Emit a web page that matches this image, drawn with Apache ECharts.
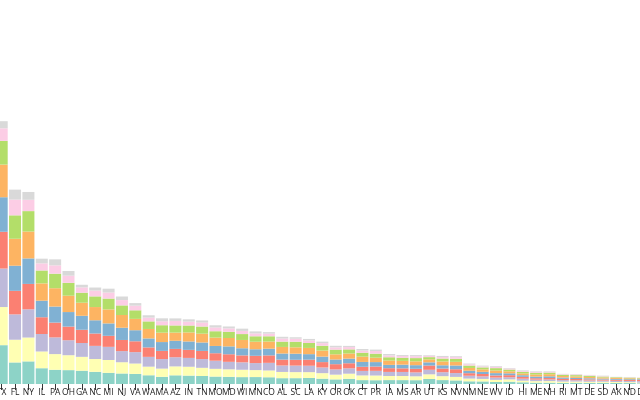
<!DOCTYPE html>
<html>
<head>
<meta charset="utf-8">
<script src="https://cdn.jsdelivr.net/npm/echarts@6/dist/echarts.min.js"></script>
<style>
  html, body { margin: 0; padding: 0; background: #fff; overflow: hidden; width: 640px; height: 400px; }
  /* the chart is wider than the window: CA sits off the left edge, DC/VT/WY off the right */
  #chart { position: absolute; left: -19.6px; top: -6.3px; width: 699.4px; height: 406.3px; }
</style>
</head>
<body>
<div id="chart"></div>
<script>
// states sorted by total population (thousands)
const states = ['CA','TX','FL','NY','IL','PA','OH','GA','NC','MI','NJ','VA','WA','MA','AZ','IN','TN','MO','MD','WI','MN','CO','AL','SC','LA','KY','OR','OK','CT','PR','IA','MS','AR','UT','KS','NV','NM','NE','WV','ID','HI','ME','NH','RI','MT','DE','SD','AK','ND','DC','VT','WY']

const ageGroups = ['<10','10-19','20-29','30-39','40-49','50-59','60-69','70-79','≥80']

const under10 = [5038,3983,2211,2320,1620,1459,1423,1364,1250,1144,1079,1034,896,738,892,863,818,764,738,706,712,691,598,600,620,548,474,533,399,389,402,400,392,514,402,369,276,264,207,237,176,138,136,111,126,112,121,107,99,74,64,78]
const age10 = [5170,3911,2331,2446,1716,1608,1530,1422,1310,1320,1154,1065,883,841,913,906,843,793,767,755,714,697,639,619,596,565,485,525,481,480,419,421,397,479,402,360,283,258,219,240,164,156,163,137,126,118,113,100,91,63,79,76]
const age20 = [5809,3946,2598,2894,1790,1712,1536,1419,1350,1347,1140,1171,1004,978,940,906,895,832,768,761,720,781,662,668,657,582,538,550,462,480,419,414,400,465,407,393,290,261,232,218,205,155,165,154,136,129,116,121,125,156,82,83]
const age30 = [5354,3771,2416,2605,1722,1520,1399,1357,1269,1131,1143,1112,971,838,857,827,837,767,778,714,744,766,603,596,622,552,536,520,425,442,382,371,373,436,376,390,259,244,220,210,187,144,148,126,125,113,105,102,95,122,70,77]
const age40 = [5179,3546,2576,2617,1697,1645,1491,1434,1358,1274,1255,1135,921,907,833,861,866,746,809,732,674,692,626,625,567,564,481,477,496,456,341,377,370,329,336,387,250,222,238,191,171,171,178,137,117,116,96,92,82,79,73,65]
const age50 = [5042,3345,2763,2756,1773,1881,1678,1340,1356,1434,1308,1162,970,964,835,926,903,855,860,849,771,729,674,657,638,620,530,522,546,453,443,390,395,302,389,374,287,255,269,207,183,208,215,153,150,135,117,105,94,72,94,77]
const age60 = [3737,2431,2405,2095,1326,1492,1321,1027,1095,1114,983,880,777,762,738,712,735,657,637,604,560,539,548,574,508,493,483,424,401,412,337,317,330,230,299,313,248,200,243,181,165,180,167,117,131,112,97,70,71,58,81,67]
const age70 = [2012,1291,1616,1160,729,851,732,543,594,619,547,474,389,407,466,399,409,382,344,323,296,273,317,306,263,271,232,237,218,269,180,178,198,124,156,174,134,104,129,101,85,97,83,60,71,61,52,28,35,30,40,32]
const age80 = [1311,732,1020,804,479,616,481,272,313,392,366,265,237,302,255,234,213,227,199,232,203,151,175,149,150,151,161,122,159,149,154,100,110,70,112,89,71,76,74,53,65,60,53,46,42,37,37,13,30,17,27,18]

const seriesValues = [under10, age10, age20, age30, age40, age50, age60, age70, age80]
const colors = ['#8dd3c7','#ffffb3','#bebada','#fb8072','#80b1d3','#fdb462','#b3de69','#fccde5','#d9d9d9']

const chart = echarts.init(document.getElementById('chart'))

chart.setOption({
    animation: false,
    color: colors,
    grid: {
        left: 0,
        right: 0,
        top: 0,
        bottom: 16,
        containLabel: false
    },
    xAxis: {
        type: 'category',
        data: states,
        axisLine: { show: false },
        axisTick: {
            show: true,
            alignWithLabel: true,
            length: 6,
            lineStyle: { color: '#333', width: 1 }
        },
        axisLabel: {
            interval: 0,
            margin: 4,
            fontSize: 8.5,
            fontFamily: '"Open Sans", sans-serif',
            color: '#222'
        }
    },
    yAxis: {
        type: 'value',
        min: 0,
        max: 40000,
        show: false,
        splitLine: { show: false }
    },
    series: seriesValues.map((values, i) => ({
        name: ageGroups[i],
        type: 'bar',
        stack: 'total',
        barCategoryGap: '10%',
        data: values
    }))
})
</script>
</body>
</html>
